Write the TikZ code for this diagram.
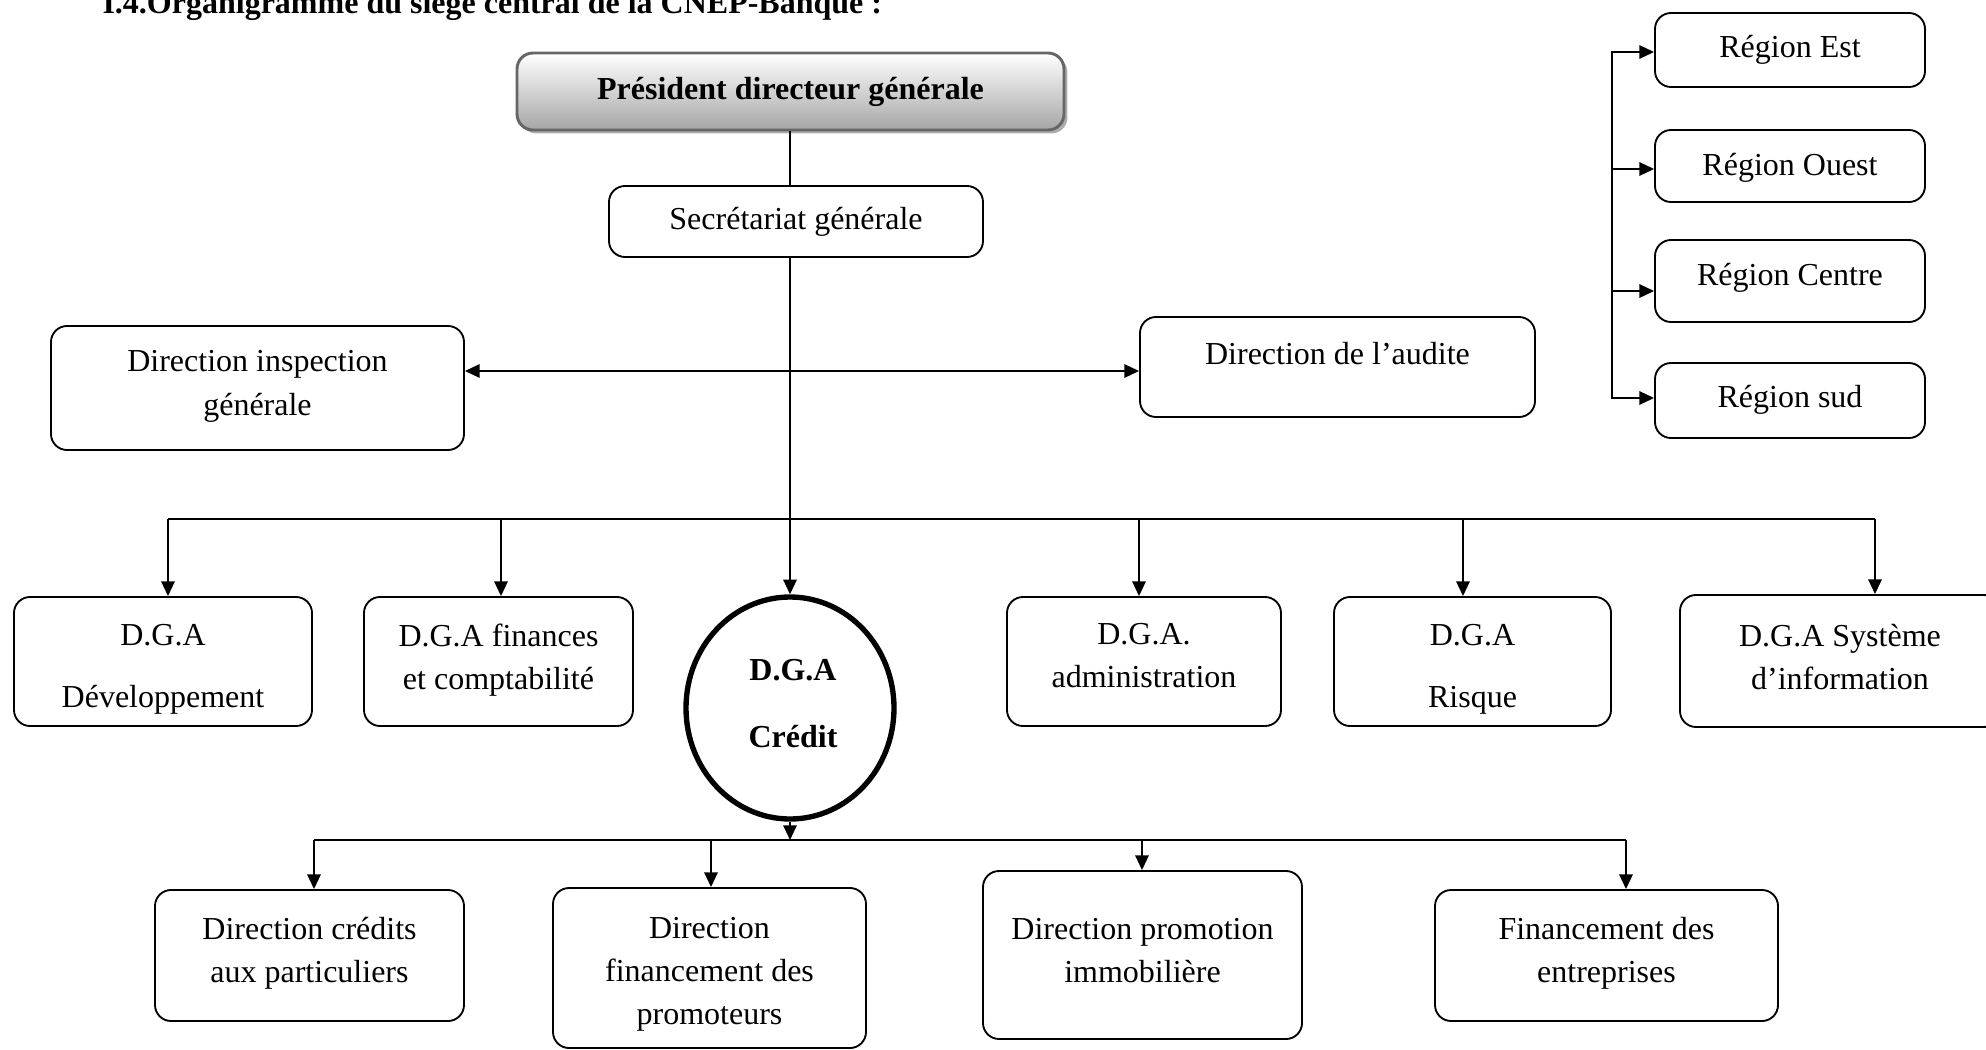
\documentclass[tikz,border=0pt]{standalone}
\usepackage{fontspec}
\setmainfont{Liberation Serif}
\usetikzlibrary{arrows.meta,shapes.geometric,shadows}
\newcommand\fsz{\fontsize{12}{16.1}\selectfont}
\begin{document}
\fsz
\begin{tikzpicture}[x=0.375pt,y=-0.375pt,
  font=\fsz,
  bx/.style={draw, rounded corners=6pt, line width=0.7pt},
  sz/.style 2 args={minimum width=#1*0.375pt, minimum height=#2*0.375pt, inner sep=0pt},
  txt/.style={anchor=north, inner sep=0pt, align=center, font=\fsz},
  ln/.style={line width=0.75pt},
  arr/.style={ln, -{Triangle[length=5.5pt,width=5pt]}},
  darr/.style={ln, {Triangle[length=5.5pt,width=5pt]}-{Triangle[length=5.5pt,width=5pt]}},
]
\useasboundingbox (0,0) rectangle (1986,1050);

% title
\node[anchor=base west, inner sep=0pt, font=\fsz\bfseries] (title) at (102,13) {I.4.Organigramme du siège central de la CNEP-Banque :};

% top
\node[bx, sz={547}{77}, draw=black!60, line width=1.1pt, top color=white, bottom color=gray!70,
      drop shadow={shadow xshift=1.3pt, shadow yshift=-1.3pt, fill=gray!80, opacity=0.8},
      font=\fsz\bfseries] (pdg) at (790.5,91.5) {Président directeur générale};
\node[bx, sz={374}{71}] (sec) at (796,221.5) {Secrétariat générale};

% inspection / audit
\node[bx, sz={413}{124}] (insp) at (257.5,388) {};
\node[txt] (inspT) at (257.5,350) {Direction inspection\\[0.4pt]générale};
\node[bx, sz={395}{100}] (aud) at (1337.5,367) {};
\node[txt] (audT) at (1337.5,342) {Direction de l’audite};

% regions
\node[bx, sz={270}{74}] (est) at (1790,50) {};
\node[txt] (estT) at (1790,35) {Région Est};
\node[bx, sz={270}{72}] (ouest) at (1790,166) {};
\node[txt] (ouestT) at (1790,153) {Région Ouest};
\node[bx, sz={270}{82}] (centre) at (1790,281) {};
\node[txt] (centreT) at (1790,263) {Région Centre};
\node[bx, sz={270}{75}] (sud) at (1790,400.5) {};
\node[txt] (sudT) at (1790,385) {Région sud};

% DGA row
\node[bx, sz={298}{129}] (dev) at (163,661.5) {};
\node[txt] (devT) at (163,624) {D.G.A\\[7.15pt]Développement};
\node[bx, sz={269}{129}] (fin) at (498.5,661.5) {};
\node[txt] (finT) at (498.5,623) {D.G.A finances\\et comptabilité};
\node[ellipse, draw, line width=2pt, sz={208}{222}] (cred) at (790,708) {};
\node[txt, font=\fsz\bfseries] (credT) at (793,659) {D.G.A\\[8.9pt]Crédit};
\node[bx, sz={274}{129}] (adm) at (1144,661.5) {};
\node[txt] (admT) at (1144,623) {D.G.A.\\administration};
\node[bx, sz={277}{129}] (ris) at (1472.5,661.5) {};
\node[txt] (risT) at (1472.5,624) {D.G.A\\[7.15pt]Risque};
\node[bx, sz={320}{132}] (si) at (1840,661) {};
\node[txt] (siT) at (1840,624) {D.G.A Système\\d’information};

% bottom row
\node[bx, sz={309}{131}] (cp) at (309.5,955.5) {};
\node[txt] (cpT) at (309.5,917) {Direction crédits\\aux particuliers};
\node[bx, sz={313}{160}] (prom) at (709.5,968) {};
\node[txt] (promT) at (709.5,917) {Direction\\financement des\\promoteurs};
\node[bx, sz={319}{168}] (immo) at (1142.5,955) {};
\node[txt] (immoT) at (1142.5,918) {Direction promotion\\immobilière};
\node[bx, sz={343}{131}] (ent) at (1606.5,955.5) {};
\node[txt] (entT) at (1606.5,917) {Financement des\\entreprises};

% spine
\coordinate (sp) at (790,0);
\draw[ln] (sp |- pdg.south) -- (sp |- sec.north);
\draw[arr] (sp |- sec.south) -- (cred.north);
\coordinate (da) at (790,371);
\draw[darr] (insp.east |- da) -- (aud.west |- da);

% bus 1
\coordinate (b1a) at (168,519);
\coordinate (b1b) at (501,519);
\coordinate (b1d) at (1139,519);
\coordinate (b1e) at (1463,519);
\coordinate (b1f) at (1875,519);
\draw[ln] (b1a) -- (b1f);
\draw[arr] (b1a) -- (b1a |- dev.north);
\draw[arr] (b1b) -- (b1b |- fin.north);
\draw[arr] (b1d) -- (b1d |- adm.north);
\draw[arr] (b1e) -- (b1e |- ris.north);
\draw[arr] (b1f) -- (b1f |- si.north);

% bus 2
\coordinate (b2a) at (314,840);
\coordinate (b2b) at (711,840);
\coordinate (b2c) at (1142,840);
\coordinate (b2d) at (1626,840);
\draw[arr] (cred.south) -- (cred.south |- b2a);
\draw[ln] (b2a) -- (b2d);
\draw[arr] (b2a) -- (b2a |- cp.north);
\draw[arr] (b2b) -- (b2b |- prom.north);
\draw[arr] (b2c) -- (b2c |- immo.north);
\draw[arr] (b2d) -- (b2d |- ent.north);

% regions connector
\coordinate (r1) at (1612,52);
\coordinate (r2) at (1612,169);
\coordinate (r3) at (1612,291);
\coordinate (r4) at (1612,398);
\draw[darr] (r1 -| est.west) -- (r1) -- (r4) -- (r4 -| sud.west);
\draw[arr] (r2) -- (r2 -| ouest.west);
\draw[arr] (r3) -- (r3 -| centre.west);
\end{tikzpicture}
\end{document}
